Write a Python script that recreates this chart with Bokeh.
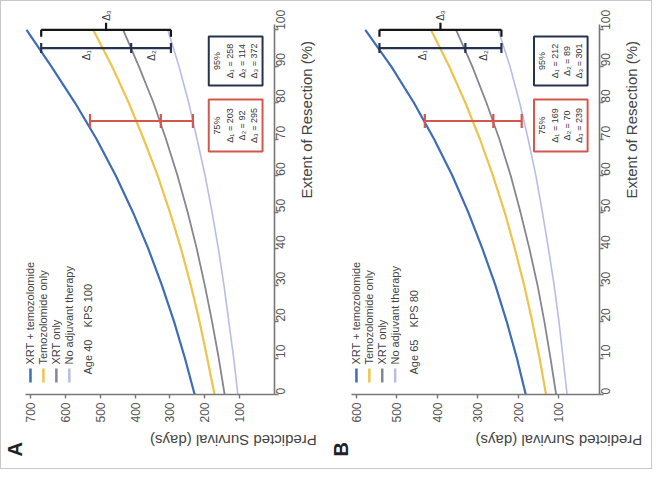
import math
from bokeh.plotting import figure
from bokeh.models import Range1d, FixedTicker
from bokeh.layouts import row
from bokeh.embed import file_html
from bokeh.resources import INLINE
from bokeh.core.properties import value

FONT = "Liberation Sans"

# ---------------- data ----------------
extent = [0, 10, 20, 30, 40, 50, 60, 70, 80, 90, 100]
extent_ticks = [0, 10, 20, 30, 40, 50, 60, 70, 80, 90, 100]
therapies = ["XRT + temozolomide", "Temozolomide only", "XRT only", "No adjuvant therapy"]

# Panel A: Age 40, KPS 100
a_xrt_tmz = [229, 257, 288, 323, 362, 406, 455, 510, 572, 640, 711]
a_tmz_only = [172, 193, 215, 240, 268, 300, 335, 375, 418, 466, 520]
a_xrt_only = [143, 160, 179, 200, 223, 249, 278, 311, 347, 389, 434]
a_no_adj = [105, 117, 131, 145, 161, 179, 199, 222, 246, 274, 306]
a_ticks = [100, 200, 300, 400, 500, 600, 700]
a_range = (714, 0)

# Panel B: Age 65, KPS 80
b_xrt_tmz = [182, 204, 229, 257, 289, 324, 363, 408, 458, 514, 578]
b_tmz_only = [132, 148, 166, 186, 209, 234, 263, 295, 331, 371, 416]
b_xrt_only = [107, 121, 136, 153, 173, 195, 219, 247, 279, 314, 354]
b_no_adj = [80, 90, 100, 112, 126, 141, 157, 176, 197, 221, 250]
b_ticks = [100, 200, 300, 400, 500, 600]
b_range = (612, 0)

# comparison levels (extent of resection, %) and survival read at them
levels = [95, 75]
a_at95 = [669, 411, 297]
a_at75 = [529, 326, 234]
b_at95 = [543, 331, 242]
b_at75 = [431, 262, 192]
a_delta95 = [258, 114, 372]
a_delta75 = [203, 92, 295]
b_delta95 = [212, 89, 301]
b_delta75 = [169, 70, 239]
a_profile = "Age 40\u00a0\u00a0\u00a0\u00a0KPS 100"
b_profile = "Age 65\u00a0\u00a0\u00a0\u00a0KPS 80"

# ---------------- style ----------------
COLORS = ["#3f6cb8", "#ecc54c", "#858690", "#b9bde6"]
WIDTHS = [2.2, 2.2, 1.8, 1.6]
NAVY = "#26334f"
RED = "#d2574f"
BLACK = "#151515"
AXIS = "#777777"
TXT = "#444444"


def panel(x_range, ticks, curves, at95, at75, d95, d75, letter, profile, left):
    W, H, YEND = 250, 392, 107.5
    x0, x1 = x_range
    p = figure(width=325, height=467, x_range=Range1d(x0, x1), y_range=Range1d(0, YEND),
               y_axis_location="right", output_backend="svg", toolbar_location=None,
               title=letter, title_location="left",
               min_border_left=left, min_border_right=325 - left - W,
               min_border_top=1, min_border_bottom=74)
    p.outline_line_color = None
    p.grid.visible = False
    p.background_fill_color = "white"
    p.border_fill_color = "white"

    # panel letter as a title on the left side, pushed below the frame
    p.title.text_font = FONT
    p.title.text_font_size = "20px"
    p.title.text_font_style = "bold"
    p.title.text_color = "#222222"
    p.title.align = "left"
    p.title.standoff = 0
    p.title.offset = -62

    def sx(px):
        return x0 + (x1 - x0) * px / W

    def sy(px):
        return YEND * px / H

    ppu = H / YEND

    xa = p.xaxis[0]
    xa.ticker = FixedTicker(ticks=ticks)
    xa.axis_label = "Predicted Survival (days)"
    xa.major_label_orientation = math.pi / 2
    xa.axis_label_orientation = math.pi
    xa.major_label_standoff = 4
    xa.axis_label_standoff = 15
    ya = p.yaxis[0]
    ya.ticker = FixedTicker(ticks=extent_ticks)
    ya.bounds = (0, 101.5)
    ya.axis_label = "Extent of Resection (%)"
    ya.major_label_orientation = math.pi / 2
    ya.axis_label_orientation = math.pi / 2
    ya.major_label_standoff = 2
    ya.axis_label_standoff = 14
    for ax in (xa, ya):
        ax.axis_line_color = AXIS
        ax.axis_line_width = 1.6
        ax.major_tick_line_color = AXIS
        ax.major_tick_line_width = 1.4
        ax.major_tick_in = 0
        ax.major_tick_out = 4
        ax.minor_tick_line_color = None
        ax.major_label_text_font = FONT
        ax.major_label_text_font_size = "12px"
        ax.major_label_text_color = "#555555"
        ax.axis_label_text_font = FONT
        ax.axis_label_text_font_size = "15px"
        ax.axis_label_text_font_style = "normal"
        ax.axis_label_text_color = TXT

    for ys, c, w in zip(curves, COLORS, WIDTHS):
        p.line(x=ys, y=extent, line_color=c, line_width=w)

    lv95, lv75 = levels
    cap = 5 / ppu
    p.segment(x0=[at95[0]], y0=[lv95], x1=[at95[2]], y1=[lv95], line_color=NAVY, line_width=2.2)
    p.segment(x0=at95, y0=[lv95 - cap] * 3, x1=at95, y1=[lv95 + cap] * 3, line_color=NAVY, line_width=2.2)
    cap7 = 7 / ppu
    p.segment(x0=[at75[0]], y0=[lv75], x1=[at75[2]], y1=[lv75], line_color=RED, line_width=2.2)
    p.segment(x0=at75, y0=[lv75 - cap7] * 3, x1=at75, y1=[lv75 + cap7] * 3, line_color=RED, line_width=2.2)
    yb = 100
    mid = (at95[0] + at95[2]) / 2
    p.segment(x0=[at95[0]], y0=[yb], x1=[at95[2]], y1=[yb], line_color=BLACK, line_width=2.2)
    p.segment(x0=[at95[0], at95[2], mid], y0=[yb, yb, yb],
              x1=[at95[0], at95[2], mid], y1=[yb - 7 / ppu, yb - 7 / ppu, yb + 7 / ppu],
              line_color=BLACK, line_width=2.2)
    p.text(x=[mid], y=[yb + 9 / ppu], text=["Δ₃"], angle=math.pi / 2, text_align="left",
           text_baseline="middle", text_font=value(FONT), text_font_size="10px", text_color="#333333")
    p.text(x=[(at95[0] + at95[1]) / 2, (at95[1] + at95[2]) / 2], y=[lv95 - 2 / ppu] * 2,
           text=["Δ₁", "Δ₂"], angle=math.pi / 2, text_align="right", text_baseline="middle",
           text_font=value(FONT), text_font_size="10px", text_color="#333333")

    bx0, bx1 = sx(184), sx(238)
    for (ylo, yhi), col, lv, d in [((309, 358), NAVY, lv95, d95), ((243, 295), RED, lv75, d75)]:
        p.quad(left=[bx0], right=[bx1], bottom=[sy(ylo)], top=[sy(yhi)], fill_color="white",
               line_color=col, line_width=2)
        ym = sy((ylo + yhi) / 2)
        texts = [f"{lv}%"] + [f"Δ{s} = {v}" for s, v in zip("₁₂₃", d)]
        p.text(x=[sx(192), sx(205), sx(217), sx(229)], y=[ym] * 4, text=texts, angle=math.pi / 2,
               text_align="center", text_baseline="middle", text_font=value(FONT),
               text_font_size="9px", text_color="#333333")

    cols = [5, 18, 31, 44]
    p.segment(x0=[sx(c) for c in cols], y0=[sy(12)] * 4, x1=[sx(c) for c in cols], y1=[sy(26)] * 4,
              line_color=COLORS, line_width=2.5)
    p.text(x=[sx(c) for c in cols], y=[sy(30)] * 4, text=therapies, angle=math.pi / 2,
           text_align="left", text_baseline="middle", text_font=value(FONT),
           text_font_size="11px", text_color=TXT)
    p.text(x=[sx(63)], y=[sy(20)], text=[profile], angle=math.pi / 2, text_align="left",
           text_baseline="middle", text_font=value(FONT), text_font_size="11px", text_color=TXT)
    return p


pa = panel(a_range, a_ticks, [a_xrt_tmz, a_tmz_only, a_xrt_only, a_no_adj], a_at95, a_at75,
           a_delta95, a_delta75, "A", a_profile, 24)
pb = panel(b_range, b_ticks, [b_xrt_tmz, b_tmz_only, b_xrt_only, b_no_adj], b_at95, b_at75,
           b_delta95, b_delta75, "B", b_profile, 25)

layout = row(pa, pb, styles={"border": "1px solid #c8c8c8"})
open("out.html", "w").write(file_html(layout, INLINE))
